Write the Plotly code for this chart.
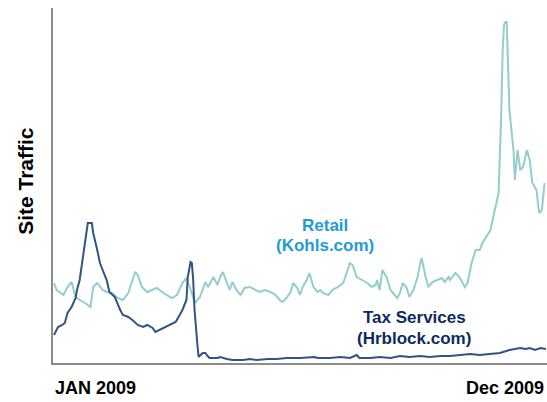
import plotly.graph_objects as go

# Day of year (0 = Jan 1, 2009) and relative site traffic
kohls_day = [0, 2, 7, 10, 13, 16, 19, 23, 27, 29, 32, 36, 39, 43, 47, 51, 55, 60, 62, 65, 69, 73, 76, 80, 84, 87, 91, 95, 98, 102, 104, 108, 112, 114, 118, 121, 123, 125, 128, 130, 132, 135, 138, 141, 145, 149, 152, 156, 160, 164, 167, 169, 172, 175, 177, 180, 182, 184, 187, 189, 192, 195, 197, 199, 203, 206, 210, 214, 217, 219, 221, 224, 228, 232, 235, 238, 239, 241, 243, 246, 249, 251, 254, 256, 258, 261, 263, 266, 269, 271, 272, 275, 277, 280, 283, 287, 289, 292, 293, 297, 300, 304, 306, 309, 312, 315, 317, 320, 323, 325, 328, 329, 331, 332, 333, 334, 335, 336, 337, 340, 341, 343, 345, 347, 350, 352, 354, 357, 359, 361, 363]
kohls_val = [80, 73, 68, 76, 81, 66, 63, 60, 56, 76, 80, 73, 71, 70, 65, 63, 70, 91, 88, 76, 71, 73, 75, 71, 68, 65, 68, 80, 85, 70, 60, 66, 81, 76, 86, 78, 86, 91, 80, 73, 81, 73, 68, 75, 76, 73, 71, 73, 71, 68, 63, 61, 65, 71, 80, 75, 68, 76, 83, 90, 76, 71, 73, 70, 68, 73, 76, 80, 93, 100, 98, 86, 83, 80, 76, 78, 83, 73, 93, 86, 73, 70, 65, 70, 80, 75, 66, 73, 86, 100, 105, 86, 76, 81, 83, 85, 81, 86, 83, 90, 86, 76, 80, 100, 113, 113, 120, 126, 133, 146, 166, 170, 253, 313, 338, 341, 341, 303, 253, 213, 183, 213, 193, 196, 213, 203, 180, 173, 150, 153, 180]

hrblock_day = [0, 3, 6, 8, 10, 13, 16, 17, 19, 21, 23, 24, 25, 28, 29, 32, 34, 36, 39, 41, 45, 49, 51, 55, 58, 62, 66, 69, 73, 75, 78, 82, 86, 90, 93, 95, 98, 99, 101, 102, 103, 104, 106, 107, 110, 112, 113, 115, 121, 123, 128, 132, 140, 145, 150, 158, 165, 172, 182, 193, 195, 204, 212, 219, 224, 226, 234, 241, 249, 256, 263, 271, 278, 286, 293, 300, 308, 315, 323, 330, 337, 341, 345, 349, 352, 356, 360, 364]
hrblock_val = [28, 36, 38, 40, 50, 56, 65, 73, 83, 103, 120, 133, 140, 140, 130, 113, 100, 93, 83, 71, 66, 53, 48, 46, 43, 38, 36, 38, 35, 31, 33, 35, 38, 41, 48, 53, 63, 86, 101, 100, 83, 53, 20, 6, 10, 10, 8, 5, 5, 6, 4, 3, 3, 4, 3, 4, 4, 5, 5, 6, 5, 5, 6, 5, 8, 5, 5, 6, 5, 7, 6, 7, 6, 7, 7, 8, 9, 8, 9, 10, 13, 14, 15, 14, 15, 13, 15, 14]

x_labels = ["JAN 2009", "Dec 2009"]
y_title = "Site Traffic"
series_labels = [("Retail", "(Kohls.com)"), ("Tax Services", "(Hrblock.com)")]

FONT = "Arial, 'Liberation Sans', sans-serif"
TEAL = "#93cdcd"
NAVY = "#2f5583"

fig = go.Figure()
fig.add_trace(go.Scatter(x=kohls_day, y=kohls_val, mode="lines",
                         line=dict(color=TEAL, width=2), hoverinfo="skip"))
fig.add_trace(go.Scatter(x=hrblock_day, y=hrblock_val, mode="lines",
                         line=dict(color=NAVY, width=2), hoverinfo="skip"))

ann = []
def add(text, x, y, color, size, xanchor="center", angle=0):
    ann.append(dict(text="<b>%s</b>" % text, x=x, y=y, xref="paper", yref="paper",
                    xanchor=xanchor, yanchor="middle", showarrow=False, textangle=angle,
                    font=dict(family=FONT, size=size, color=color)))

add(series_labels[0][0], 0.5506, 0.386, "#1e9bd7", 17)
add(series_labels[0][1], 0.5506, 0.332, "#1e9bd7", 17)
add(series_labels[1][0], 0.7308, 0.1268, "#0d2a5e", 17)
add(series_labels[1][1], 0.7308, 0.0704, "#0d2a5e", 17)
add(x_labels[0], 0.0, -0.0704, "#000000", 18, xanchor="left")
add(x_labels[1], 0.998, -0.0704, "#000000", 18, xanchor="right")
add(y_title, -0.0547, 0.513, "#000000", 21, angle=-90)

fig.update_layout(
    width=547, height=402,
    margin=dict(l=53, r=0, t=8, b=39),
    paper_bgcolor="white", plot_bgcolor="white",
    showlegend=False,
    annotations=ann,
    xaxis=dict(range=[-0.74, 364.8], showline=True, linecolor="#8c8c8c", linewidth=2,
               showgrid=False, zeroline=False, showticklabels=False, ticks=""),
    yaxis=dict(range=[0, 355], showline=True, linecolor="#8c8c8c", linewidth=2,
               showgrid=False, zeroline=False, showticklabels=False, ticks=""),
)

fig.write_html("out.html", config={"displayModeBar": False},
               post_script="document.body.style.margin='0';document.body.style.overflow='hidden';")
